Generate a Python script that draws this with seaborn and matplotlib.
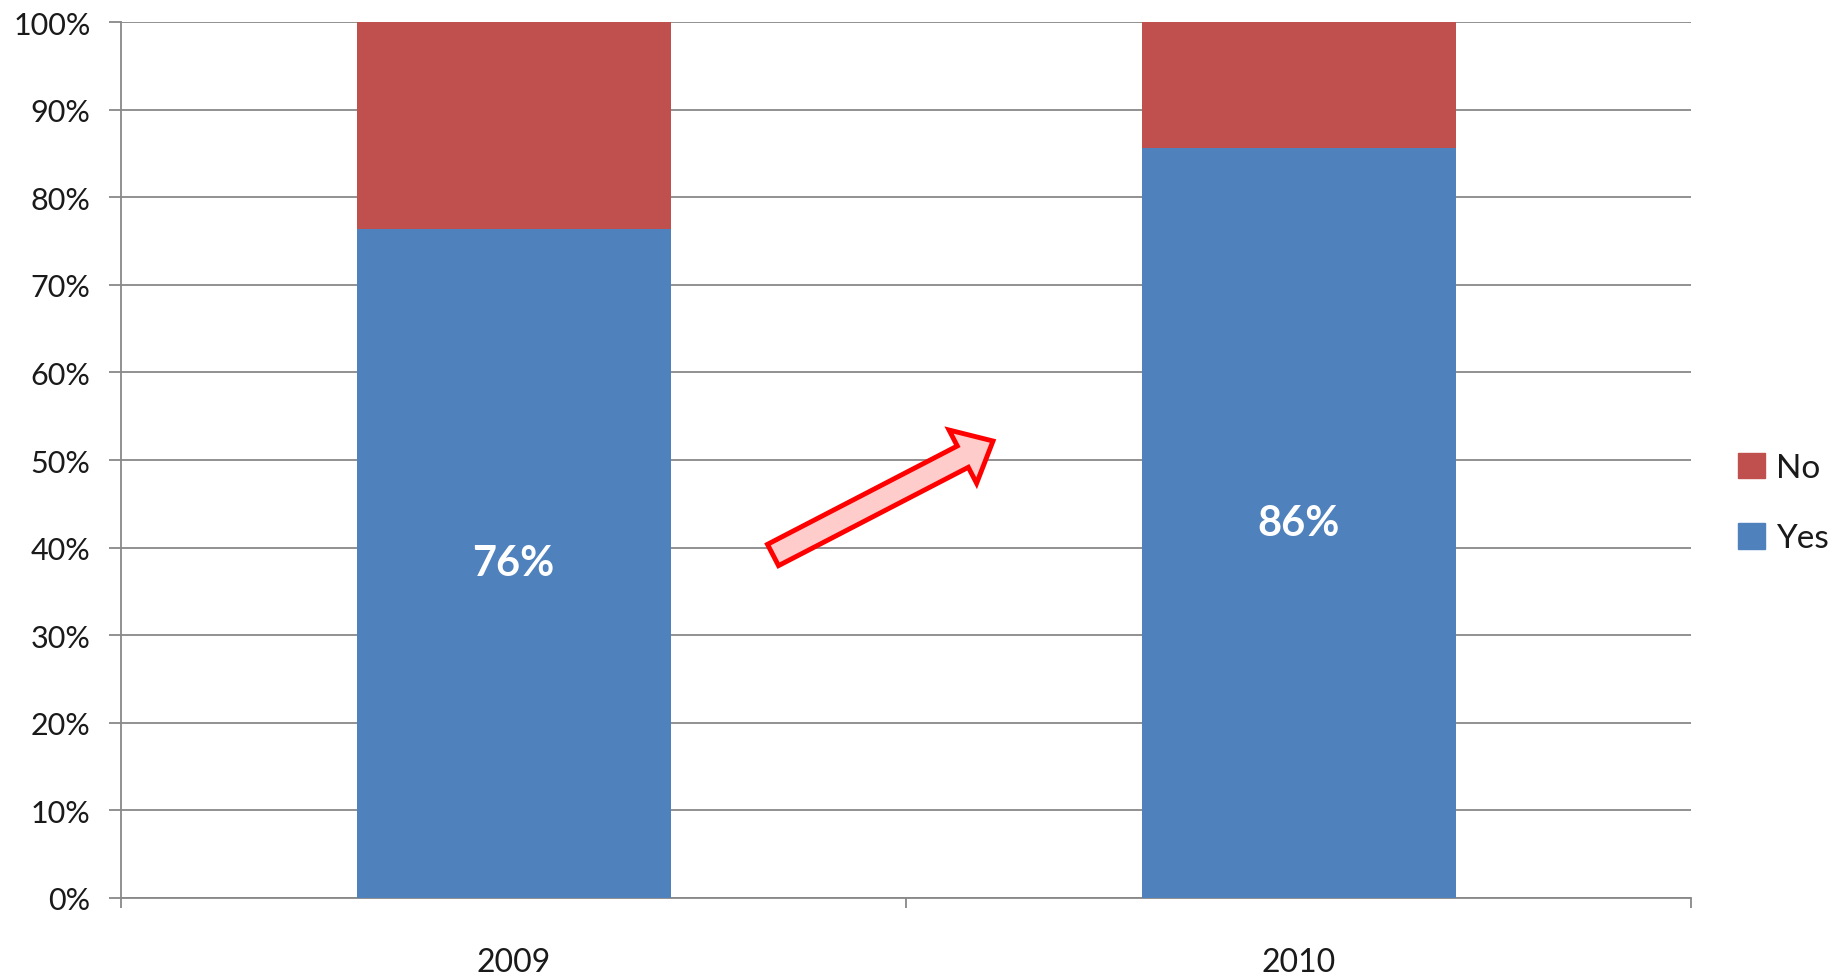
import matplotlib
matplotlib.use("Agg")
import matplotlib.pyplot as plt
import matplotlib.patches as mpatches
from matplotlib.transforms import IdentityTransform
import numpy as np
import pandas as pd
import seaborn as sns

years = ["2009", "2010"]
yes_vals = [76.4, 85.6]
no_vals = [23.6, 14.4]
bar_labels = ["76%", "86%"]
ytick_vals = [0, 10, 20, 30, 40, 50, 60, 70, 80, 90, 100]
ytick_labels = ["0%", "10%", "20%", "30%", "40%", "50%", "60%", "70%", "80%", "90%", "100%"]

BLUE = "#4F81BD"
RED = "#C0504D"
GRID = "#888888"
TXT = "#1a1a1a"

sns.set_theme(style="white")
plt.rcParams["font.family"] = ["Lato", "DejaVu Sans"]

W, H = 1841, 979
fig = plt.figure(figsize=(W / 100, H / 100), dpi=100)
ax = fig.add_axes([121 / W, 1 - 899 / H, 1570 / W, 876 / H])

df = pd.DataFrame({
    "year": years,
    "yes": yes_vals,
    "total": [y + n for y, n in zip(yes_vals, no_vals)],
})
sns.barplot(data=df, x="year", y="total", color=RED, saturation=1, width=0.4,
            linewidth=0, ax=ax, zorder=2)
sns.barplot(data=df, x="year", y="yes", color=BLUE, saturation=1, width=0.4,
            linewidth=0, ax=ax, zorder=3)

ax.set_xlim(-0.5, 1.5)
ax.set_ylim(0, 100)
ax.set_xlabel("")
ax.set_ylabel("")
ax.set_yticks(ytick_vals)
ax.set_yticklabels(ytick_labels, fontsize=22, color=TXT)
ax.yaxis.grid(True, color=GRID, lw=1.3)
ax.set_axisbelow(True)
ax.tick_params(axis="y", length=9, width=1.3, color=GRID, pad=13, left=True)
ax.set_xticks([0, 1])
ax.set_xticklabels(years, fontsize=23, color=TXT)
ax.set_xticks([-0.5, 0.5, 1.5], minor=True)
ax.tick_params(axis="x", which="major", length=0, pad=35)
ax.tick_params(axis="x", which="minor", length=7, width=1.3, color=GRID, bottom=True)
for s in ["top", "right"]:
    ax.spines[s].set_visible(False)
for s in ["left", "bottom"]:
    ax.spines[s].set_color(GRID)
    ax.spines[s].set_linewidth(1.3)

for i, (v, lab) in enumerate(zip(yes_vals, bar_labels)):
    ax.text(i, v / 2, lab, ha="center", va="center", color="white",
            fontsize=30, fontweight="bold", zorder=5)

handles = [mpatches.Patch(color=RED, label="No"), mpatches.Patch(color=BLUE, label="Yes")]
fig.legend(handles=handles, loc="center left", bbox_to_anchor=(1738 / W, 1 - 504 / H),
           frameon=False, handlelength=0.8, handleheight=0.8, handletextpad=0.35,
           labelspacing=1.2, borderpad=0, borderaxespad=0, fontsize=24,
           labelcolor=TXT)

# Arrow (in pixel coordinates)
x0, y0 = 773, H - 556
x1, y1 = 993, H - 442
arrow = mpatches.FancyArrow(x0, y0, x1 - x0, y1 - y0, width=24, head_width=60,
                            head_length=34, length_includes_head=True,
                            facecolor="#FFCCCC", edgecolor="#FF0000", linewidth=3.5,
                            transform=IdentityTransform(), zorder=10)
fig.add_artist(arrow)

fig.savefig("out.png", dpi=100)
